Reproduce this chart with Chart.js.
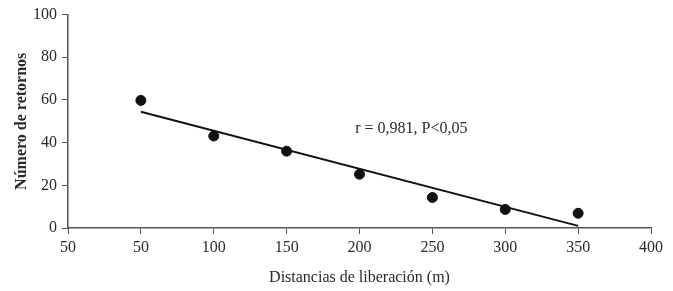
<!DOCTYPE html>
<html lang="es">
<head>
    <meta charset="UTF-8">
    <title>Retornos</title>
    <style>
        html, body { margin: 0; padding: 0; background: #fff; }
        #wrap { width: 673px; height: 291px; position: relative; }
    </style>
    <script src="https://cdn.jsdelivr.net/npm/chart.js"></script>
</head>
<body>
    <div id="wrap"><canvas id="viz"></canvas></div>
    <script>
        // data
        const distances = [50, 100, 150, 200, 250, 300, 350]
        const returns = [59.8, 43.1, 36.0, 25.2, 14.3, 8.7, 6.9]
        const trendX = [50, 350]
        const trendY = [54.5, 1.0]
        const xTickLabels = ['50', '50', '100', '150', '200', '250', '300', '350', '400']
        const yTickLabels = ['0', '20', '40', '60', '80', '100']
        const note = 'r = 0,981, P<0,05'

        const serif = "'Liberation Serif', 'DejaVu Serif', serif"
        const axisColor = '#555'
        const textColor = '#2a2a2a'

        const notePlugin = {
            id: 'note',
            afterDatasetsDraw(chart) {
                const { ctx, scales } = chart
                ctx.save()
                ctx.font = '16px ' + serif
                ctx.fillStyle = textColor
                ctx.textBaseline = 'middle'
                ctx.fillText(note, scales.x.getPixelForValue(197), scales.y.getPixelForValue(46.7))
                ctx.restore()
            }
        }

        new Chart(document.getElementById('viz'), {
            type: 'scatter',
            data: {
                datasets: [
                    {
                        data: distances.map((d, i) => ({ x: d, y: returns[i] })),
                        backgroundColor: '#111',
                        borderColor: '#111',
                        pointRadius: 5,
                        pointHoverRadius: 5
                    },
                    {
                        type: 'line',
                        data: trendX.map((d, i) => ({ x: d, y: trendY[i] })),
                        borderColor: '#111',
                        borderWidth: 2,
                        pointRadius: 0,
                        fill: false
                    }
                ]
            },
            options: {
                responsive: true,
                maintainAspectRatio: false,
                animation: false,
                layout: { padding: { top: 7, right: 22, left: 0, bottom: 0 } },
                plugins: { legend: { display: false }, tooltip: { enabled: false } },
                scales: {
                    x: {
                        type: 'linear',
                        min: 0,
                        max: 400,
                        afterFit(scale) { scale.height = 63 },
                        ticks: {
                            stepSize: 50,
                            color: textColor,
                            font: { family: serif, size: 16 },
                            padding: 4,
                            maxRotation: 0,
                            callback: (v, i) => xTickLabels[i]
                        },
                        grid: { drawOnChartArea: false, drawTicks: true, tickLength: 6, color: axisColor },
                        border: { display: true, color: axisColor, width: 1.5 },
                        title: {
                            display: true,
                            text: 'Distancias de liberación (m)',
                            color: textColor,
                            font: { family: serif, size: 16 },
                            padding: { top: 8, bottom: 3.5 }
                        }
                    },
                    y: {
                        min: 0,
                        max: 100,
                        afterFit(scale) { scale.width = 68 },
                        ticks: {
                            stepSize: 20,
                            color: textColor,
                            font: { family: serif, size: 16 },
                            padding: 5,
                            callback: (v, i) => yTickLabels[i]
                        },
                        grid: { drawOnChartArea: false, drawTicks: true, tickLength: 6, color: axisColor },
                        border: { display: true, color: axisColor, width: 1.5 },
                        title: {
                            display: true,
                            text: 'Número de retornos',
                            color: textColor,
                            font: { family: serif, size: 16, weight: 'bold' },
                            padding: { top: 12.5, bottom: 4 }
                        }
                    }
                }
            },
            plugins: [notePlugin]
        })
    </script>
</body>
</html>
